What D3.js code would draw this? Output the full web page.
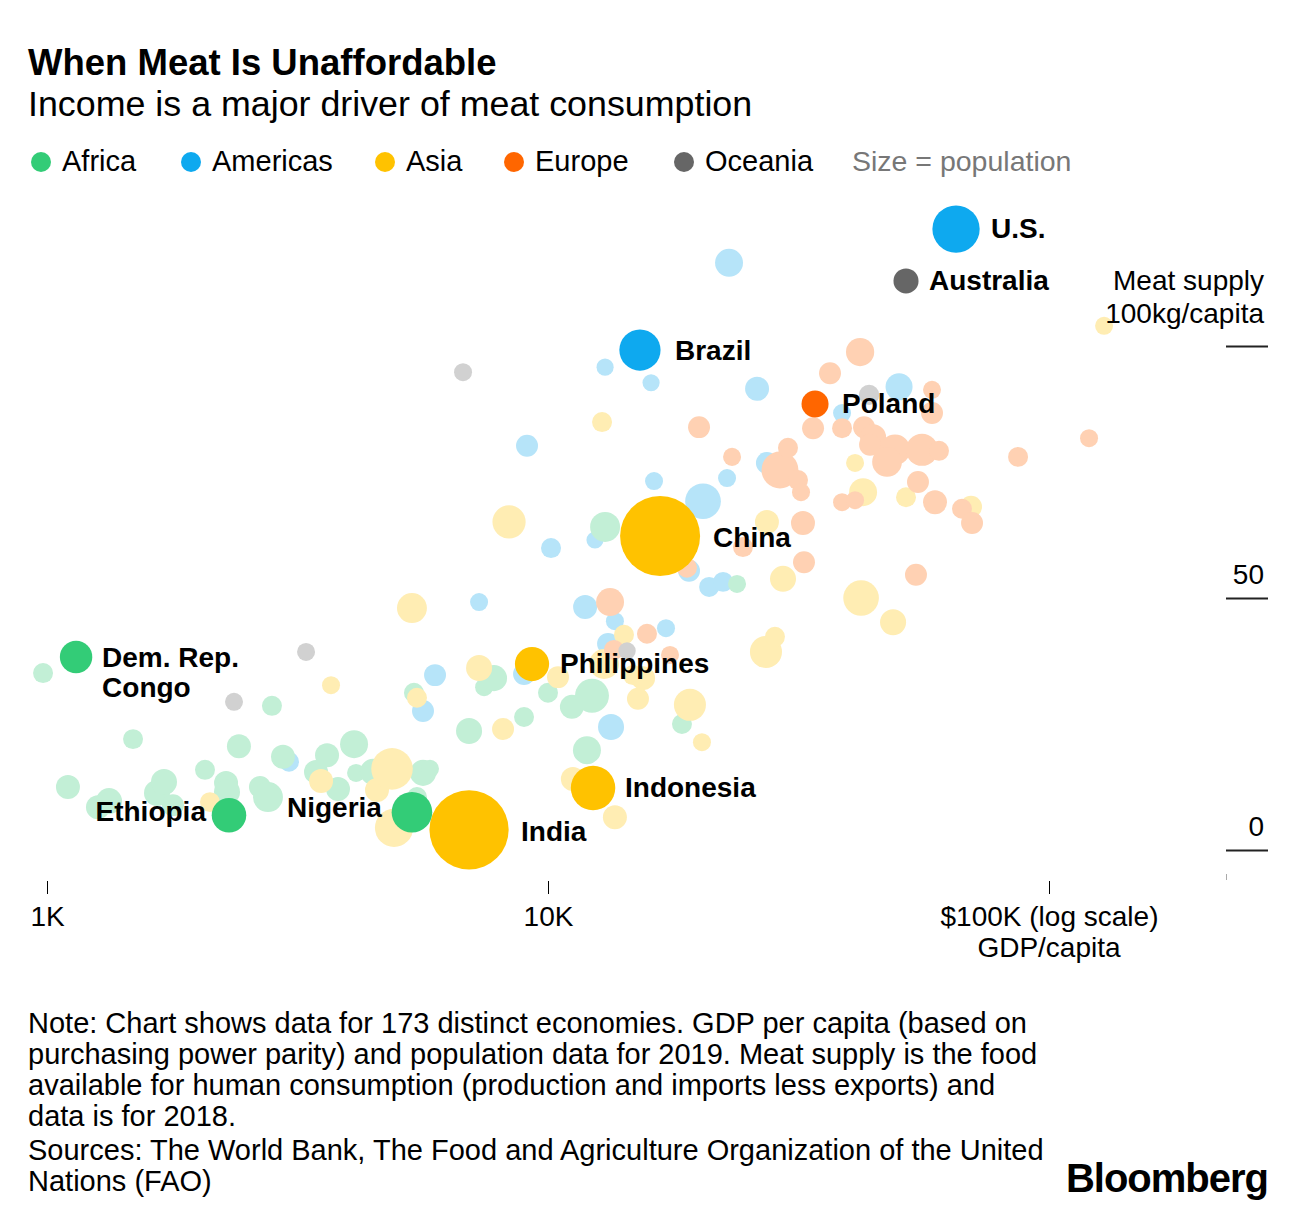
<!DOCTYPE html>
<html><head><meta charset="utf-8">
<script src="https://cdn.jsdelivr.net/npm/d3@7"></script>
<style>
body{margin:0;background:#fff;}
svg{display:block;font-family:"Liberation Sans",Arial,Helvetica,sans-serif;}
</style></head><body>
<svg id="chart" width="1296" height="1216"></svg>
<script>
// ---------- DATA ----------
const regions = ["Africa", "Americas", "Asia", "Europe", "Oceania"];
const darkColors = ["#33cc77", "#0ea9ef", "#ffc200", "#ff6600", "#666666"];
const lightColors = ["#c2efd6", "#b6e4f9", "#ffedb3", "#ffd1b3", "#d1d1d1"];

// each row: [GDP per capita (PPP $), meat supply (kg/capita), population (millions)]
const africa = [
  [982,35.1,4],[1485,22.0,4],[1101,12.5,19],[1264,8.5,19],[1330,9.7,31],[1658,11.3,31],
  [1712,13.5,31],[1784,8.9,10],[2067,15.9,4],[2277,13.3,19],[2287,11.5,31],[2416,20.6,19],
  [2661,12.5,10],[2761,10.5,62],[2812,28.6,4],[2958,18.5,19],[3443,15.5,19],[3622,18.8,19],
  [3809,12.1,19],[4101,21.0,45],[4139,15.3,0.7],[4474,15.5,31],[5476,10.5,4],[5630,15.3,31],
  [5814,16.1,0.7],[5401,31.2,4],[6957,23.6,31],[7455,32.3,0.7],[7803,34.1,31],[8957,26.4,4],
  [10000,31.2,4],[11160,28.4,19],[12240,30.6,105],[11960,19.8,45],[13000,64.1,62],
  [18510,25.0,4],[23840,52.8,0.7]
];
const americas = [
  [3041,17.5,4],[5950,34.7,10],[5630,27.6,10],[7285,49.2,0.7],[8957,34.9,10],[9081,80.2,10],
  [10140,59.9,4],[12410,61.5,0.1],[11860,48.2,19],[13000,95.8,0.1],[13600,45.4,0.7],
  [13180,40.9,10],[13360,24.4,31],[16060,92.7,0.1],[16280,73.2,0.7],[17200,44.0,0.7],
  [19120,55.4,10],[20390,69.2,127],[20970,52.2,4],[22360,53.2,4],[22770,73.8,0.7],
  [22980,116.5,45],[26140,91.5,19],[27350,76.8,10],[38630,86.7,0.7],[50200,91.9,38]
];
const asia = [
  [3689,32.7,0.7],[2115,9.5,4],[3524,13.7,19],[4557,11.9,19],[4883,16.1,217],[4928,4.4,163],
  [5351,48.0,62],[5476,30.2,4],[7285,36.1,31],[8133,24.0,10],[8361,65.1,96],[10470,34.3,10],
  [11210,14.1,19],[12820,84.9,4],[12940,36.9,62],[13600,6.5,19],[14180,42.7,4],[14780,34.7,4],
  [15480,34.1,19],[15120,30.0,10],[19200,28.8,83],[20290,21.4,0.7],[27230,39.3,83],
  [28380,42.3,4],[27350,65.1,19],[29450,53.8,31],[41010,76.8,0.7],[42550,71.0,45],
  [42160,50.0,126],[48840,45.2,31],[51830,70.0,4],[69880,68.1,10],[128800,104.0,0.7]
];
const europe = [
  [13300,49.2,45],[13540,39.7,4],[15760,42.9,4],[17520,38.7,0.7],[18940,56.0,4],[20020,83.9,10],
  [23300,78.0,0.7],[24500,60.1,4],[29040,75.4,144],[30130,79.8,4],[31550,73.4,4],[31990,71.0,0.7],
  [32280,64.9,19],[32430,57.1,10],[33810,83.7,10],[36550,94.6,10],[38630,83.7,4],[38630,69.0,0.7],
  [41010,69.4,0.7],[41970,98.8,47],[42740,83.9,10],[44550,81.9,31],[43940,80.4,10],
  [49280,79.4,67],[47500,77.0,60],[55780,79.4,83],[60310,79.2,4],[54760,73.0,10],
  [59220,69.0,19],[58410,91.3,0.7],[58410,86.7,10],[67040,67.7,4],[70210,64.9,10],
  [54260,54.6,10],[86740,78.0,4],[120200,81.7,0.7]
];
const oceania = [
  [6767,94.8,0.7],[3289,39.3,0.7],[2362,29.4,0.7],[14380,39.5,0.2],[43740,90.3,5]
];

// highlighted economies
const highlightNames   = ["U.S.", "Australia", "Brazil", "Poland", "China", "Philippines", "Indonesia", "India", "Nigeria", "Ethiopia", "Dem. Rep.|Congo"];
const highlightRegions = ["Americas", "Oceania", "Americas", "Europe", "Asia", "Asia", "Asia", "Asia", "Africa", "Africa", "Africa"];
const highlightGdp     = [65230, 51830, 15260, 34120, 16740, 9292, 12300, 6957, 5351, 2308, 1143];
const highlightMeat    = [123.2, 112.9, 99.2, 88.5, 62.3, 36.9, 12.3, 4.0, 7.5, 6.9, 38.3];
const highlightPop     = [328, 25, 211, 38, 1400, 108, 270, 1366, 201, 112, 87];

const xTicks = [1000, 10000, 100000];
const xTickLabels = ["1K", "10K", "$100K (log scale)"];
const yTicks = [0, 50, 100];
const yTickLabels = ["0", "50", "100kg/capita"];

const footerLines = [
  "Note: Chart shows data for 173 distinct economies. GDP per capita (based on",
  "purchasing power parity) and population data for 2019. Meat supply is the food",
  "available for human consumption (production and imports less exports) and",
  "data is for 2018.",
  "Sources: The World Bank, The Food and Agriculture Organization of the United",
  "Nations (FAO)"
];

// ---------- LAYOUT ----------
const svg = d3.select("#chart");
const x = d3.scaleLog().domain([1000, 100000]).range([47, 1049]);
const y = d3.scaleLinear().domain([0, 100]).range([850, 346]);
const r = d3.scaleSqrt().domain([0, 1400]).range([8.3, 40]);
const regionIndex = name => regions.indexOf(name);

// Title & subtitle
svg.append("text").attr("x", 28).attr("y", 75).attr("font-size", 36.5).attr("font-weight", "bold")
  .attr("fill", "#000").text("When Meat Is Unaffordable");
svg.append("text").attr("x", 28).attr("y", 116).attr("font-size", 35.8).attr("fill", "#000")
  .text("Income is a major driver of meat consumption");

// Legend
const legendCircleX = [41, 191, 385, 514, 684];
const legend = svg.append("g");
regions.forEach((reg, i) => {
  legend.append("circle").attr("cx", legendCircleX[i]).attr("cy", 162).attr("r", 10)
    .attr("fill", darkColors[i]);
  legend.append("text").attr("x", legendCircleX[i] + 21).attr("y", 171).attr("font-size", 29)
    .attr("fill", "#000").text(reg);
});
legend.append("text").attr("x", 852).attr("y", 171).attr("font-size", 28.5).attr("fill", "#777")
  .text("Size = population");

// Light bubbles (draw order by region)
const drawOrder = [["Americas", americas], ["Africa", africa], ["Asia", asia], ["Europe", europe], ["Oceania", oceania]];
const points = [];
drawOrder.forEach(([reg, arr]) => arr.forEach(d => points.push({region: reg, gdp: d[0], meat: d[1], pop: d[2]})));

svg.append("g").selectAll("circle").data(points).join("circle")
  .attr("cx", d => x(d.gdp)).attr("cy", d => y(d.meat)).attr("r", d => r(d.pop))
  .attr("fill", d => lightColors[regionIndex(d.region)]);

// Highlighted bubbles
const highlights = highlightNames.map((n, i) => ({
  name: n, region: highlightRegions[i], gdp: highlightGdp[i], meat: highlightMeat[i], pop: highlightPop[i]
}));
svg.append("g").selectAll("circle").data(highlights).join("circle")
  .attr("cx", d => x(d.gdp)).attr("cy", d => y(d.meat)).attr("r", d => r(d.pop))
  .attr("fill", d => darkColors[regionIndex(d.region)]);

// Label placement (style, not data): dx from centre, dy baseline offset
const labelLayout = {
  "U.S.": {dx: 35, dy: 9, anchor: "start"},
  "Australia": {dx: 23, dy: 9, anchor: "start"},
  "Brazil": {dx: 35, dy: 10, anchor: "start"},
  "Poland": {dx: 27, dy: 9, anchor: "start"},
  "China": {dx: 53, dy: 11, anchor: "start"},
  "Philippines": {dx: 28, dy: 9, anchor: "start"},
  "Indonesia": {dx: 32, dy: 9, anchor: "start"},
  "India": {dx: 52, dy: 11, anchor: "start"},
  "Nigeria": {dx: -30, dy: 5, anchor: "end"},
  "Ethiopia": {dx: -23, dy: 6, anchor: "end"},
  "Dem. Rep.|Congo": {dx: 26, dy: 10, anchor: "start"}
};
const labels = svg.append("g").attr("font-size", 28).attr("font-weight", "bold").attr("fill", "#000");
highlights.forEach(d => {
  const L = labelLayout[d.name];
  const t = labels.append("text").attr("text-anchor", L.anchor);
  const parts = d.name.split("|");
  parts.forEach((p, k) => {
    t.append("tspan").attr("x", x(d.gdp) + L.dx).attr("y", y(d.meat) + L.dy + k * 30).text(p);
  });
});

// X axis
const xAxis = d3.axisBottom(x).tickValues(xTicks)
  .tickFormat((d, i) => xTickLabels[i]).tickSize(13).tickPadding(12);
const gx = svg.append("g").attr("transform", "translate(0,881)").call(xAxis);
gx.select(".domain").remove();
gx.selectAll(".tick line").attr("stroke", "#000").attr("stroke-width", 1);
gx.selectAll(".tick text").attr("font-size", 28).attr("fill", "#000")
  .attr("font-family", "'Liberation Sans',Arial,Helvetica,sans-serif");
svg.append("text").attr("x", x(100000)).attr("y", 957).attr("text-anchor", "middle")
  .attr("font-size", 28).attr("fill", "#000").text("GDP/capita");

// Y axis (right side, ticks as short bars)
const yAxis = d3.axisRight(y).tickValues(yTicks)
  .tickFormat((d, i) => yTickLabels[i]).tickSize(42);
const gy = svg.append("g").attr("transform", "translate(1226,0)").call(yAxis);
gy.select(".domain").remove();
gy.selectAll(".tick line").attr("stroke", "#222").attr("stroke-width", 2);
gy.selectAll(".tick text")
  .attr("x", 38).attr("dy", 0)
  .attr("y", d => d === 100 ? -24 : -15)
  .attr("text-anchor", "end").attr("font-size", 28).attr("fill", "#000")
  .attr("font-family", "'Liberation Sans',Arial,Helvetica,sans-serif");
svg.append("text").attr("x", 1264).attr("y", 290).attr("text-anchor", "end")
  .attr("font-size", 28).attr("fill", "#000").text("Meat supply");
svg.append("line").attr("x1", 1226.5).attr("x2", 1226.5).attr("y1", 874).attr("y2", 880)
  .attr("stroke", "#aaa").attr("stroke-width", 1);

// Footer
const footer = svg.append("g").attr("font-size", 29).attr("fill", "#000");
const footerBaselines = [1033, 1064, 1095, 1126, 1160, 1191];
footerLines.forEach((line, i) => {
  footer.append("text").attr("x", 28).attr("y", footerBaselines[i]).text(line);
});
svg.append("text").attr("x", 1268).attr("y", 1192).attr("text-anchor", "end")
  .attr("font-size", 40).attr("font-weight", "bold").attr("letter-spacing", -1)
  .attr("fill", "#000").text("Bloomberg");
</script>
</body></html>
